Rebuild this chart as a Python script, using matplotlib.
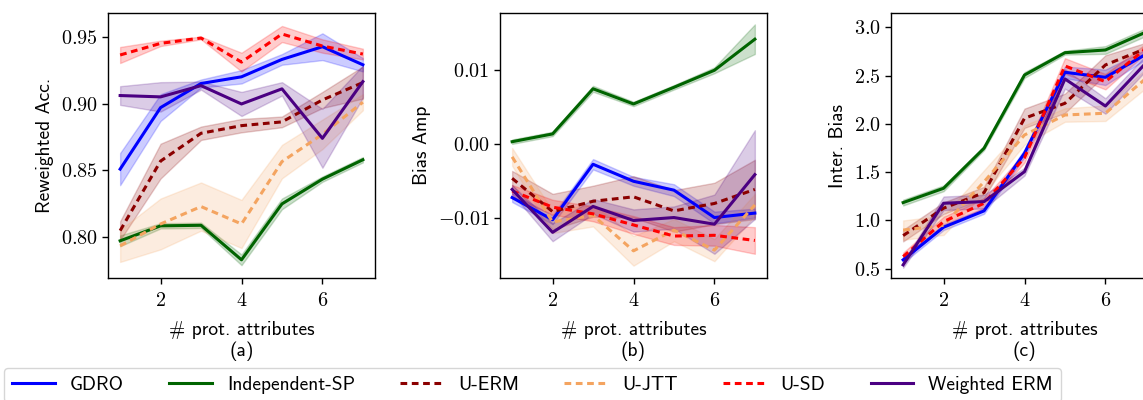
import matplotlib
matplotlib.use("Agg")
import matplotlib.pyplot as plt
from matplotlib.ticker import MultipleLocator, FuncFormatter
import numpy as np

# ---------------- data ----------------
n_attrs = [1, 2, 3, 4, 5, 6, 7]
methods = ["GDRO", "Independent-SP", "U-ERM", "U-JTT", "U-SD", "Weighted ERM"]

# (a) Reweighted Acc.
acc_gdro = [0.851, 0.897, 0.915, 0.920, 0.933, 0.9425, 0.929]
acc_gdro_sd = [0.012, 0.010, 0.003, 0.005, 0.004, 0.010, 0.005]
acc_isp = [0.7974, 0.8086, 0.809, 0.7832, 0.825, 0.8435, 0.858]
acc_isp_sd = [0.004, 0.002, 0.002, 0.004, 0.004, 0.002, 0.002]
acc_uerm = [0.805, 0.857, 0.8778, 0.8835, 0.8863, 0.9027, 0.9157]
acc_uerm_sd = [0.007, 0.013, 0.005, 0.005, 0.004, 0.006, 0.012]
acc_ujtt = [0.7936, 0.810, 0.823, 0.810, 0.8566, 0.877, 0.901]
acc_ujtt_sd = [0.012, 0.019, 0.018, 0.018, 0.0125, 0.011, 0.006]
acc_usd = [0.9363, 0.945, 0.949, 0.931, 0.952, 0.943, 0.937]
acc_usd_sd = [0.006, 0.002, 0.001, 0.007, 0.006, 0.005, 0.004]
acc_werm = [0.906, 0.905, 0.9134, 0.8997, 0.911, 0.874, 0.9164]
acc_werm_sd = [0.007, 0.011, 0.003, 0.009, 0.005, 0.022, 0.012]

# (b) Bias Amp
ba_gdro = [-0.0072, -0.0102, -0.0027, -0.0050, -0.0062, -0.0099, -0.0093]
ba_gdro_sd = [0.0006, 0.0006, 0.0007, 0.0006, 0.0008, 0.0008, 0.0006]
ba_isp = [0.00035, 0.0014, 0.0075, 0.00545, 0.0077, 0.0100, 0.0142]
ba_isp_sd = [0.0003, 0.0003, 0.0004, 0.0003, 0.0003, 0.0004, 0.0020]
ba_uerm = [-0.0046, -0.0091, -0.0077, -0.0071, -0.0090, -0.0080, -0.0061]
ba_uerm_sd = [0.0010, 0.0024, 0.0021, 0.0028, 0.0028, 0.0028, 0.0040]
ba_ujtt = [-0.0017, -0.0105, -0.0096, -0.0144, -0.0116, -0.0143, -0.0082]
ba_ujtt_sd = [0.0012, 0.0015, 0.0015, 0.0020, 0.0015, 0.0015, 0.0015]
ba_usd = [-0.0063, -0.0085, -0.0094, -0.0109, -0.0124, -0.0123, -0.0130]
ba_usd_sd = [0.0008, 0.0010, 0.0010, 0.0012, 0.0012, 0.0014, 0.0018]
ba_werm = [-0.0061, -0.0119, -0.0084, -0.0103, -0.0099, -0.0108, -0.0041]
ba_werm_sd = [0.0006, 0.0012, 0.0010, 0.0015, 0.0015, 0.0040, 0.0060]

# (c) Inter. Bias
ib_gdro = [0.592, 0.930, 1.099, 1.696, 2.534, 2.482, 2.72]
ib_gdro_sd = [0.03, 0.03, 0.03, 0.04, 0.06, 0.08, 0.05]
ib_isp = [1.185, 1.333, 1.748, 2.506, 2.737, 2.765, 2.95]
ib_isp_sd = [0.03, 0.03, 0.02, 0.03, 0.02, 0.04, 0.04]
ib_uerm = [0.843, 1.127, 1.288, 2.058, 2.213, 2.610, 2.78]
ib_uerm_sd = [0.06, 0.06, 0.06, 0.10, 0.10, 0.10, 0.06]
ib_ujtt = [0.90, 0.95, 1.40, 1.885, 2.092, 2.110, 2.47]
ib_ujtt_sd = [0.10, 0.10, 0.12, 0.10, 0.07, 0.08, 0.10]
ib_usd = [0.626, 0.988, 1.178, 1.650, 2.600, 2.437, 2.78]
ib_usd_sd = [0.04, 0.05, 0.05, 0.05, 0.08, 0.08, 0.05]
ib_werm = [0.540, 1.178, 1.195, 1.505, 2.465, 2.185, 2.63]
ib_werm_sd = [0.03, 0.07, 0.07, 0.04, 0.10, 0.08, 0.08]

colors = ["#0000ff", "#006400", "#8b0000", "#f4a460", "#ff0000", "#4b0082"]
styles = ["-", "-", (0, (2.2, 1.5)), (0, (2.2, 1.5)), (0, (2.2, 1.5)), "-"]

panels = [
    ("Reweighted Acc.", "(a)",
     [acc_gdro, acc_isp, acc_uerm, acc_ujtt, acc_usd, acc_werm],
     [acc_gdro_sd, acc_isp_sd, acc_uerm_sd, acc_ujtt_sd, acc_usd_sd, acc_werm_sd],
     (0.7696, 0.9677), 0.05, 2),
    ("Bias Amp", "(b)",
     [ba_gdro, ba_isp, ba_uerm, ba_ujtt, ba_usd, ba_werm],
     [ba_gdro_sd, ba_isp_sd, ba_uerm_sd, ba_ujtt_sd, ba_usd_sd, ba_werm_sd],
     (-0.01807, 0.01774), 0.01, 2),
    ("Inter. Bias", "(c)",
     [ib_gdro, ib_isp, ib_uerm, ib_ujtt, ib_usd, ib_werm],
     [ib_gdro_sd, ib_isp_sd, ib_uerm_sd, ib_ujtt_sd, ib_usd_sd, ib_werm_sd],
     (0.404, 3.148), 0.5, 1),
]

plt.rcParams["mathtext.fontset"] = "cm"
plt.rcParams["font.family"] = "cmss10"
plt.rcParams["axes.unicode_minus"] = False

W, H = 1143, 400
fig = plt.figure(figsize=(W / 100, H / 100), dpi=100)

lefts = [108, 500, 891]
ax_w = 267
top, bottom = 13, 278

x = np.array(n_attrs)
handles = []
for i, (ylab, sub, series, sds, ylim, step, dec) in enumerate(panels):
    ax = fig.add_axes([lefts[i] / W, 1 - bottom / H, ax_w / W, (bottom - top) / H])
    for j, (m, s) in enumerate(zip(series, sds)):
        m = np.array(m); s = np.array(s)
        ax.fill_between(x, m - s, m + s, color=colors[j], alpha=0.2, linewidth=1)
        ln, = ax.plot(x, m, color=colors[j], linestyle=styles[j], linewidth=2.2, label=methods[j])
        if i == 0:
            handles.append(ln)
    ax.set_xlim(0.7, 7.3)
    ax.set_ylim(*ylim)
    ax.xaxis.set_major_locator(MultipleLocator(2))
    ax.yaxis.set_major_locator(MultipleLocator(step))
    ax.xaxis.set_major_formatter(FuncFormatter(lambda v, p: "$%d$" % round(v)))
    ax.yaxis.set_major_formatter(
        FuncFormatter(lambda v, p, d=dec: "$%s$" % (("%." + str(d) + "f") % (round(v, 6) + 0.0))))
    ax.tick_params(labelsize=14.5, length=4, width=1)
    ax.tick_params(axis="x", pad=6)
    for sp in ax.spines.values():
        sp.set_linewidth(1.0)
    ax.set_ylabel(ylab, fontsize=14, family="cmss10", labelpad=5)
    ax.set_xlabel("# prot. attributes\n" + sub, fontsize=14, family="cmss10", labelpad=8,
                  linespacing=1.2)

fig.legend(handles=handles, labels=methods, loc="upper left",
           bbox_to_anchor=(4 / W, 1 - 368 / H), ncol=6,
           prop={"family": "cmss10", "size": 14},
           handlelength=2.2, handletextpad=0.78, columnspacing=2.32,
           borderaxespad=0, frameon=True, fancybox=True)

fig.savefig("out.png", dpi=100)
